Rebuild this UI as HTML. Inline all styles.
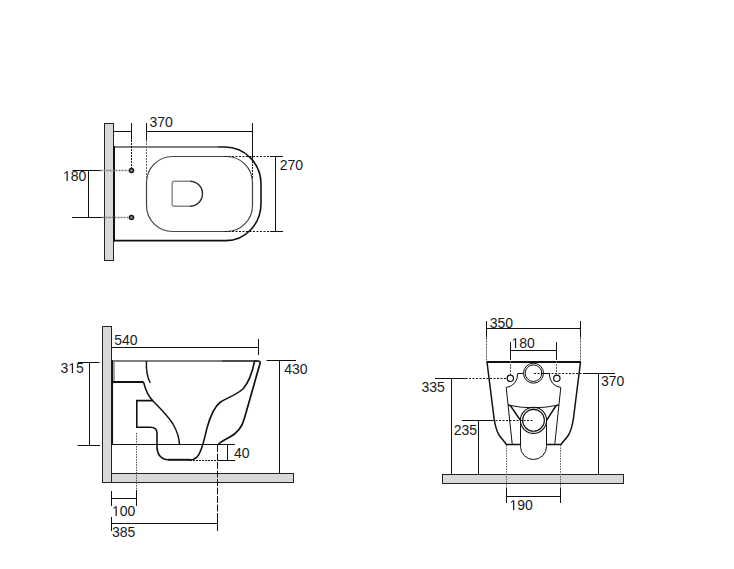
<!DOCTYPE html>
<html><head><meta charset="utf-8"><style>
html,body{margin:0;padding:0;background:#fff;width:734px;height:569px;overflow:hidden}
svg{position:absolute;left:0;top:0}
text{font-family:"Liberation Sans",sans-serif;font-size:14px;fill:#1a1a1a}
</style></head><body>
<svg width="734" height="569" viewBox="0 0 734 569">
<g fill="none" stroke="#111" stroke-width="1">
<!-- ===== TOP VIEW ===== -->
<rect x="104.5" y="123.5" width="9" height="137" fill="#d9d9dc" stroke="#222"/>
<!-- outer outline -->
<path d="M114,240.6 H226 A35,37 0 0 0 261,203.6 V184 A36,37 0 0 0 225,147 H218" stroke-width="1.6"/>
<path d="M114,147 H222" stroke="#555" stroke-width="1.6"/>
<line x1="114" y1="146" x2="114" y2="241.6" stroke-width="2"/>
<!-- seat -->
<path d="M172.5,156.5 H226.5 A26,26 0 0 1 252.5,182.5 V205.5 A26,26 0 0 1 226.5,231.5 H172.5 A26,26 0 0 1 146.5,205.5 V182.5 A26,26 0 0 1 172.5,156.5 Z" stroke="#444" stroke-width="1.2"/>
<!-- D -->
<path d="M174.2,181.2 H190 A12.5,12.5 0 0 1 190,206.2 H174.2 Q172.2,206.2 172.2,204.2 V183.2 Q172.2,181.2 174.2,181.2 Z" stroke="#888" stroke-width="1.4"/>
<path d="M190,181.2 A12.5,12.5 0 0 1 190,206.2" stroke="#222" stroke-width="1.1"/>
<!-- holes -->
<circle cx="131.5" cy="170.5" r="2" fill="#999" stroke="#111" stroke-width="1.5"/>
<circle cx="131.5" cy="217.5" r="2" fill="#999" stroke="#111" stroke-width="1.5"/>
<!-- dims 370 -->
<path d="M113.5,131.5 H131.5 M131.5,123 V140 M146.5,131.5 H252.5 M146.5,123 V140 M252.5,123 V161"/>
<path d="M131.5,140 V168" stroke-dasharray="2,1"/>
<path d="M146.5,140 V180" stroke="#666" stroke-dasharray="2,1"/>
<path d="M252.5,161 V179" stroke-dasharray="2,1"/>
<!-- dims 180 -->
<path d="M72.5,170.5 H100.5 M72,217.5 H102.5 M88.5,170.5 V217.5"/>
<path d="M100.5,170.5 H129 M102.5,217.5 H129" stroke="#777" stroke-width="1.3" stroke-dasharray="2,1"/>
<!-- dims 270 -->
<path d="M270,156.5 H283 M270,231.5 H283 M275.5,156.5 V231.5"/>
<path d="M225,156.5 H270 M225,231.5 H270" stroke-dasharray="2,1.5"/>

<!-- ===== SIDE VIEW ===== -->
<rect x="102.5" y="326.5" width="9" height="156" fill="#d9d9dc" stroke="#222"/>
<rect x="111.5" y="473.5" width="182" height="9" fill="#d9d9dc" stroke="#222"/>
<line x1="112" y1="361" x2="222" y2="361" stroke="#555" stroke-width="1.6"/>
<line x1="222" y1="361" x2="257" y2="361" stroke-width="1.6"/>
<path d="M254.5,361 H258 Q260.5,361 260,363.5 L244.5,418 C242,428 236,434 229,437.5 C224,440 220,442 218.2,444.8" stroke-width="1.7"/>
<path d="M254.5,361.5 C252,374 249,382 243,389 C236,395 227,398 220.5,402 C214,407 210,417 207,428 C204,440 202,452 197,457 C195,459 193,460 189,460" stroke-width="1.6"/>
<line x1="112.2" y1="360.2" x2="112.2" y2="445" stroke-width="1.7"/>
<line x1="114" y1="361.5" x2="114" y2="381" stroke="#777" stroke-width="1.3"/>
<path d="M112,382 H143.5" stroke-width="2"/>
<path d="M143.5,382 C145.5,390 148,396 153,401 C160,408 168,416 173,424 C177,431 179.3,437 179.5,445" stroke-width="1.5"/>
<path d="M146.4,361 C146,372 147.5,378 150.3,383" stroke-width="1.4"/>
<path d="M153,400.6 H136.8 V427.3 H150.5 C154,427.3 157,429 157,433 V447 C157,454 161,459.7 168.4,459.7" stroke-width="1.6"/>
<path d="M168,459.8 H190" stroke-width="2"/>
<line x1="112" y1="444.5" x2="235" y2="444.5"/>
<line x1="190" y1="460.5" x2="218" y2="460.5" stroke-dasharray="2,1"/>
<line x1="218" y1="460.5" x2="235" y2="460.5"/>
<line x1="227.5" y1="445" x2="227.5" y2="460.5"/>
<!-- dims -->
<path d="M111.5,347.5 H258.5 M258.5,339 V355"/>
<path d="M78,362.5 H99.5 M77.5,445.5 H100 M89.5,362.5 V445.5"/>
<path d="M266.5,360.5 H296 M279.5,360.5 V474"/>
<path d="M111.5,491 V506 M111.5,498.5 H136.5 M136.5,490 V506"/>
<path d="M111.5,517 V531 M111.5,523.5 H217.5 M217.5,514 V531"/>
<path d="M136.5,433 V490" stroke="#555" stroke-dasharray="1.6,1"/>
<path d="M217.5,445 V514" stroke-dasharray="7,1.5"/>

<!-- ===== FRONT VIEW ===== -->
<rect x="442.5" y="474.5" width="181" height="9" fill="#d9d9dc" stroke="#222"/>
<line x1="486.5" y1="362" x2="581" y2="362" stroke-width="2"/>
<path d="M487,362 L494,418 C495,425 496,430 499,435 C501,438 504,441 506.3,444.5 H520.5" stroke-width="1.5"/>
<path d="M580.5,362 L573.5,418 C572.5,425 571.5,430 568.5,435 C566.5,438 563.5,441 561,444.5 H546.5" stroke-width="1.5"/>
<circle cx="533.5" cy="373.2" r="10"/>
<circle cx="533.5" cy="373.2" r="8.3"/>
<circle cx="510.3" cy="378.3" r="3.2" stroke-width="1.2"/>
<circle cx="556.8" cy="378.3" r="3.2" stroke-width="1.2"/>
<path d="M517.5,373.5 H523.5 M543.5,373.5 H549.5" />
<path d="M517.6,374 A12,13 0 0 1 506.2,387.4 L512.2,444"/>
<path d="M549.4,374 A12,13 0 0 0 560.8,387.4 L554.8,444"/>
<path d="M508,405.1 Q533.3,410.5 558.5,405.1"/>
<path d="M508,405.1 Q510,405 511,406.5 L520.3,420.2 M558.5,405.1 Q556.5,405 555.5,406.5 L546.7,420.2" stroke-width="1.5"/>
<circle cx="533.5" cy="420.3" r="13.1" stroke-width="1.1"/>
<circle cx="533.5" cy="420.3" r="10.9" stroke-width="1.1"/>
<path d="M520.5,420.2 V446.5 A13,13 0 0 0 546.5,446.5 V420.2"/>
<!-- dims -->
<path d="M486.5,321 V337.5 M580.5,321 V337.5 M486.5,328.5 H580.5"/>
<path d="M486.5,337.5 V361 M580.5,337.5 V361" stroke="#555" stroke-dasharray="2,1"/>
<path d="M510.5,342 V360 M556.5,342 V360 M510.5,350.5 H556.5"/>
<path d="M510.5,361 V375 M556.5,361 V375" stroke="#555" stroke-dasharray="2,1"/>
<path d="M435,378.5 H465.5 M451.5,378.5 V474"/>
<path d="M465.5,378.5 H506.5" stroke-dasharray="2,1.5"/>
<path d="M462,420.5 H492 M478.5,420.5 V474"/>
<path d="M492,420.5 H533.5" stroke-dasharray="2,1.5"/>
<path d="M585,373.5 H615 M598.5,373.5 V474"/>
<path d="M534,373.5 H585" stroke-dasharray="2,1.5"/>
<path d="M506.5,488 V503 M560.5,488 V503 M506.5,496.5 H560.5"/>
<path d="M506.5,445 V488 M560.5,445 V488" stroke="#666" stroke-dasharray="1.6,1"/>
</g>
<g>
<text x="149.5" y="127">370</text>
<text x="63" y="181">&#8199;80</text>
<text x="279.8" y="169.8">270</text>
<text x="114.2" y="345">540</text>
<text x="60.5" y="373">3&#8199;5</text>
<text x="284.3" y="374">430</text>
<text x="234" y="457.8">40</text>
<text x="112" y="516">&#8199;00</text>
<text x="112" y="537">385</text>
<text x="489.7" y="327.5">350</text>
<text x="511.4" y="348">&#8199;80</text>
<text x="421.5" y="392">335</text>
<text x="453.8" y="435">235</text>
<text x="601" y="386">370</text>
<text x="509.5" y="510">&#8199;90</text>
<path fill="#1a1a1a" d="M66.52,181.00 L66.52,172.54 L64.35,174.10 L64.35,172.93 L66.62,171.37 L67.76,171.37 L67.76,181.00 Z M71.81,373.00 L71.81,364.54 L69.63,366.10 L69.63,364.93 L71.91,363.37 L73.04,363.37 L73.04,373.00 Z M115.52,516.00 L115.52,507.54 L113.35,509.10 L113.35,507.93 L115.62,506.37 L116.76,506.37 L116.76,516.00 Z M514.92,348.00 L514.92,339.54 L512.75,341.10 L512.75,339.93 L515.02,338.37 L516.16,338.37 L516.16,348.00 Z M513.02,510.00 L513.02,501.54 L510.85,503.10 L510.85,501.93 L513.12,500.37 L514.26,500.37 L514.26,510.00 Z"/>
</g>
</svg>
</body></html>
